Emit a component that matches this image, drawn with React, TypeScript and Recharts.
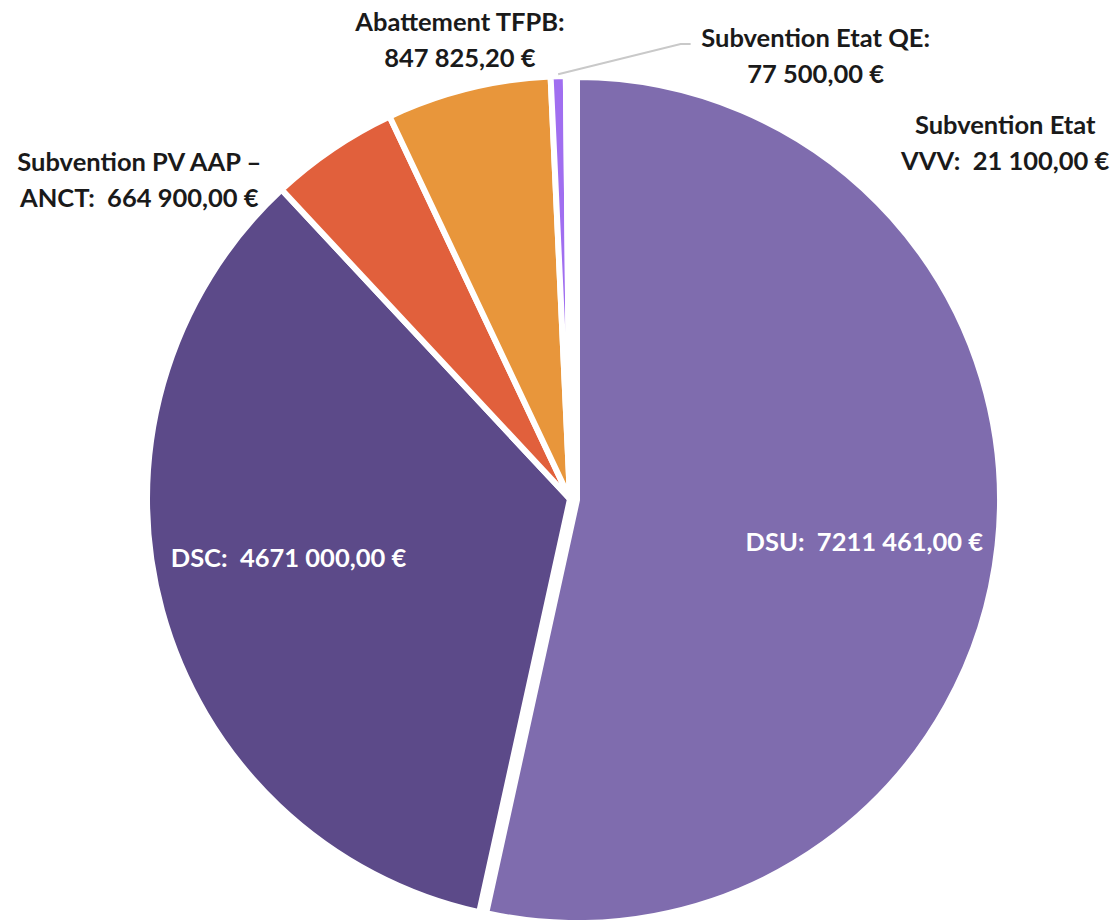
import { PieChart, Pie, Cell } from "recharts"

const categories = [
  "DSU",
  "DSC",
  "Subvention PV AAP – ANCT",
  "Abattement TFPB",
  "Subvention Etat QE",
  "Subvention Etat VVV",
]
const amounts = [7211461, 4671000, 664900, 847825.2, 77500, 21100]
const labelTexts = [
  ["DSU:  7211 461,00 €"],
  ["DSC:  4671 000,00 €"],
  ["Subvention PV AAP –", "ANCT:  664 900,00 €"],
  ["Abattement TFPB:", "847 825,20 €"],
  ["Subvention Etat QE:", "77 500,00 €"],
  ["Subvention Etat", "VVV:  21 100,00 €"],
]

const colors = ["#7f6cae", "#5c4a89", "#e1603c", "#e8963b", "#a06ef0", "#b99af5"]

// where each label sits: fraction of the radius along the slice's mid angle, then a nudge
const labelLayout = [
  { k: 0.7, dx: 0, dy: 10, color: "#ffffff" },
  { k: 0.69, dx: 0, dy: -19, color: "#ffffff" },
  { k: 1.2, dx: -146, dy: 100, color: "#1a1a1a" },
  { k: 1.1, dx: 2, dy: -8, color: "#1a1a1a" },
  { k: 1.05, dx: 258, dy: 0, color: "#1a1a1a" },
  { k: 0.85, dx: 437, dy: 3, color: "#1a1a1a" },
]

const data = categories.map((name, i) => ({ name, value: amounts[i] }))

const RAD = Math.PI / 180
const polar = (cx: number, cy: number, r: number, angle: number) => ({
  x: cx + r * Math.cos(-angle * RAD),
  y: cy + r * Math.sin(-angle * RAD),
})

const LINE_H = 36

function renderLabel(props: any) {
  const { cx, cy, outerRadius, midAngle, index } = props
  const lay = labelLayout[index]
  const p = polar(cx, cy, outerRadius * lay.k, midAngle)
  const x = p.x + lay.dx
  const y = p.y + lay.dy
  const lines = labelTexts[index]
  const top = y - ((lines.length - 1) * LINE_H) / 2
  let leader = null
  if (index === 4) {
    const s = polar(cx, cy, outerRadius + 2, midAngle)
    leader = (
      <polyline
        points={`${s.x},${s.y} ${x - 135},${y - 11} ${x - 125},${y - 11}`}
        fill="none"
        stroke="#c9c9c9"
        strokeWidth={2}
      />
    )
  }
  return (
    <g key={`lbl-${index}`}>
      {leader}
      <text
        x={x}
        y={top}
        textAnchor="middle"
        dominantBaseline="central"
        fill={lay.color}
        style={{ fontFamily: "Lato, 'Open Sans', sans-serif", fontWeight: 700, fontSize: 25.5, whiteSpace: "pre" }}
      >
        {lines.map((t, j) => (
          <tspan key={j} x={x} dy={j === 0 ? 0 : LINE_H}>
            {t}
          </tspan>
        ))}
      </text>
    </g>
  )
}

export default function App() {
  return (
    <div style={{ position: "absolute", left: 0, top: 0, width: 1115, height: 920, background: "#fff" }}>
      <PieChart width={1115} height={920} margin={{ top: 0, right: 0, bottom: 0, left: 0 }}>
        <Pie
          data={data}
          dataKey="value"
          nameKey="name"
          cx={570}
          cy={499}
          innerRadius={0}
          outerRadius={423}
          startAngle={90}
          endAngle={-270}
          stroke="#ffffff"
          strokeWidth={6}
          label={renderLabel}
          labelLine={false}
          isAnimationActive={false}
        >
          {data.map((d, i) => (
            <Cell
              key={d.name}
              fill={i === 0 ? "transparent" : colors[i]}
              stroke={i === 0 ? "none" : "#ffffff"}
            />
          ))}
        </Pie>
        {/* DSU slice pulled out a little, like the source */}
        <Pie
          data={data}
          dataKey="value"
          nameKey="name"
          cx={577}
          cy={500}
          innerRadius={0}
          outerRadius={423}
          startAngle={90}
          endAngle={-270}
          stroke="#ffffff"
          strokeWidth={6}
          isAnimationActive={false}
        >
          {data.map((d, i) => (
            <Cell
              key={d.name}
              fill={i === 0 ? colors[0] : "transparent"}
              stroke={i === 0 ? "#ffffff" : "none"}
            />
          ))}
        </Pie>
      </PieChart>
    </div>
  )
}
